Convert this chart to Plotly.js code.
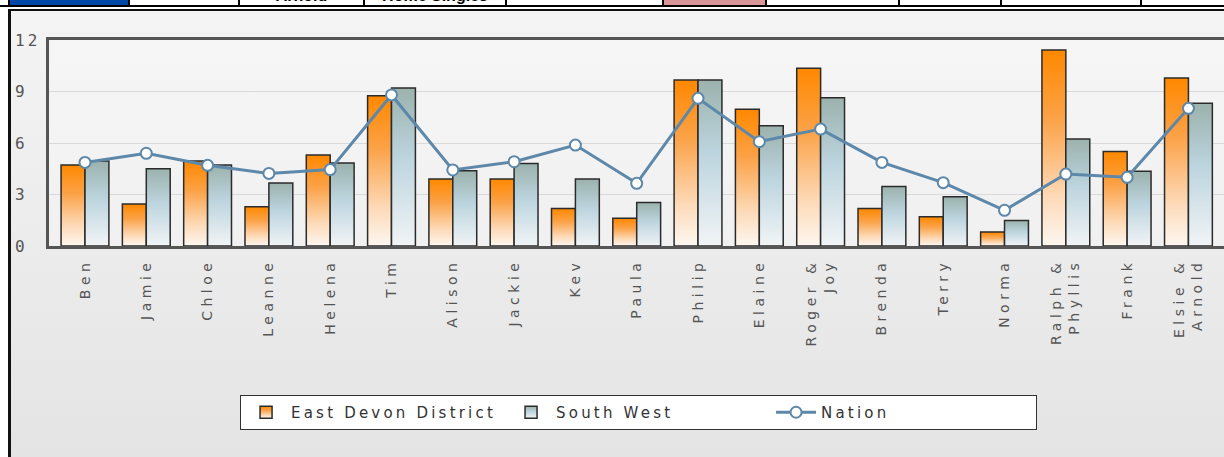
<!DOCTYPE html>
<html><head><meta charset="utf-8">
<script src="https://cdn.plot.ly/plotly-3.0.1.min.js"></script>
<style>
html,body{margin:0;padding:0;width:1224px;height:457px;overflow:hidden;background:#fff;}
#strip{position:absolute;left:0;top:0;width:1224px;height:7px;overflow:hidden;border-bottom:2px solid #000;box-sizing:border-box;}
.cell{position:absolute;top:0;height:5px;overflow:hidden;border-left:2px solid #000;box-sizing:border-box;}
.cell span{position:absolute;left:0;right:0;top:-13px;text-align:center;font:bold 16px "Liberation Sans",Arial,sans-serif;color:#000;}
#frame{position:absolute;left:8px;top:9px;width:1216px;height:448px;border-left:3px solid #111;border-top:2px solid #111;background:linear-gradient(#f4f4f4,#e4e4e4);}
#chart{position:absolute;left:0;top:0;width:1224px;height:457px;}
.xtick text{letter-spacing:4.5px;}
.legendtext{letter-spacing:3.2px;}
.annotation-text{letter-spacing:3px;}
.barlayer .trace:nth-child(1) path{fill:url(#gOrange)!important;}
.barlayer .trace:nth-child(2) path{fill:url(#gSW)!important;}
.legend .traces:nth-child(1) .legendpoints path{fill:url(#gOrange)!important;}
.legend .traces:nth-child(2) .legendpoints path{fill:url(#gSW)!important;}
</style>
</head><body>
<svg width="0" height="0" style="position:absolute"><defs>
<linearGradient id="gOrange" x1="0" y1="0" x2="0" y2="1">
<stop offset="0" stop-color="#ff8800"/><stop offset="0.35" stop-color="#fba247"/><stop offset="0.75" stop-color="#fddab8"/><stop offset="1" stop-color="#fdf7f0"/>
</linearGradient>
<linearGradient id="gSW" x1="0" y1="0" x2="0" y2="1">
<stop offset="0" stop-color="#9bb2ad"/><stop offset="0.45" stop-color="#bdd5df"/><stop offset="1" stop-color="#f1f4f6"/>
</linearGradient>
</defs></svg>
<div id="strip">
<div class="cell" style="left:8px;width:120px;background:#0048a8;"></div>
<div class="cell" style="left:128px;width:110px;"></div>
<div class="cell" style="left:238px;width:125px;"><span>Arnold</span></div>
<div class="cell" style="left:363px;width:142px;"><span>Home Singles</span></div>
<div class="cell" style="left:505px;width:157px;"></div>
<div class="cell" style="left:662px;width:103px;background:#da9696;"></div>
<div class="cell" style="left:765px;width:133px;"></div>
<div class="cell" style="left:898px;width:102px;"></div>
<div class="cell" style="left:1000px;width:140px;"></div>
<div class="cell" style="left:1140px;width:90px;"></div>
</div>
<div id="frame"></div>
<div id="chart"></div>
<script>
const categories = ["Ben","Jamie","Chloe","Leanne","Helena","Tim","Alison","Jackie","Kev","Paula","Philip","Elaine","Roger &<br>Joy","Brenda","Terry","Norma","Ralph &<br>Phyllis","Frank","Elsie &<br>Arnold"];
const eastDevon = [4.72,2.45,4.95,2.29,5.3,8.75,3.9,3.9,2.19,1.61,9.67,7.96,10.35,2.19,1.71,0.82,11.42,5.51,9.78];
const southWest = [4.95,4.5,4.72,3.67,4.83,9.2,4.39,4.81,3.9,2.54,9.67,7.01,8.64,3.46,2.87,1.48,6.23,4.35,8.31];
const nation = [4.87,5.4,4.7,4.23,4.45,8.8,4.43,4.91,5.88,3.65,8.6,6.08,6.81,4.87,3.69,2.08,4.19,4.0,8.02];
const yTicks = [0,3,6,9,12];
const seriesNames = ["East Devon District","South West","Nation"];

const traces = [
  {type:'bar', name:seriesNames[0], x:categories, y:eastDevon,
   marker:{color:'#fb9a35', line:{color:'#2b2b2b', width:1.5}}},
  {type:'bar', name:seriesNames[1], x:categories, y:southWest,
   marker:{color:'#b6cbd0', line:{color:'#2b2b2b', width:1.5}}},
  {type:'scatter', mode:'lines+markers', name:seriesNames[2], x:categories, y:nation,
   line:{color:'#5d88aa', width:3},
   marker:{size:11, color:'#ffffff', line:{color:'#5d88aa', width:2}}}
];

const annotations = yTicks.map(v => ({
  xref:'paper', yref:'y', x:-0.0306, y:v, xanchor:'left', yanchor:'middle',
  text:String(v), showarrow:false,
  font:{family:'DejaVu Sans Mono', size:16, color:'#555'}
}));

const layout = {
  width:1224, height:457,
  margin:{l:49, r:0, t:40, b:211},
  paper_bgcolor:'rgba(0,0,0,0)', plot_bgcolor:'rgba(255,255,255,0.25)',
  barmode:'group', bargap:0.22, bargroupgap:0,
  showlegend:true,
  xaxis:{type:'category', range:[-0.587, 18.58], showline:true, mirror:true,
    linecolor:'#555', linewidth:3, ticks:'', tickangle:-90, showgrid:false,
    tickfont:{family:'DejaVu Sans', size:14, color:'#555'}, ticklabelstandoff:4},
  yaxis:{range:[0,12], dtick:3, showticklabels:false, showline:true, linecolor:'#555',
    linewidth:3, gridcolor:'#d9d9d9', gridwidth:1, zeroline:false, ticks:''},
  legend:{orientation:'h', x:0.1626, xanchor:'left', y:-0.7233, yanchor:'top',
    bgcolor:'#ffffff', bordercolor:'#333', borderwidth:1,
    font:{family:'DejaVu Sans', size:15, color:'#333'},
    entrywidth:210, entrywidthmode:'pixels', itemwidth:40},
  annotations:annotations
};

Plotly.newPlot('chart', traces, layout, {staticPlot:true, displayModeBar:false});
</script>
</body></html>
